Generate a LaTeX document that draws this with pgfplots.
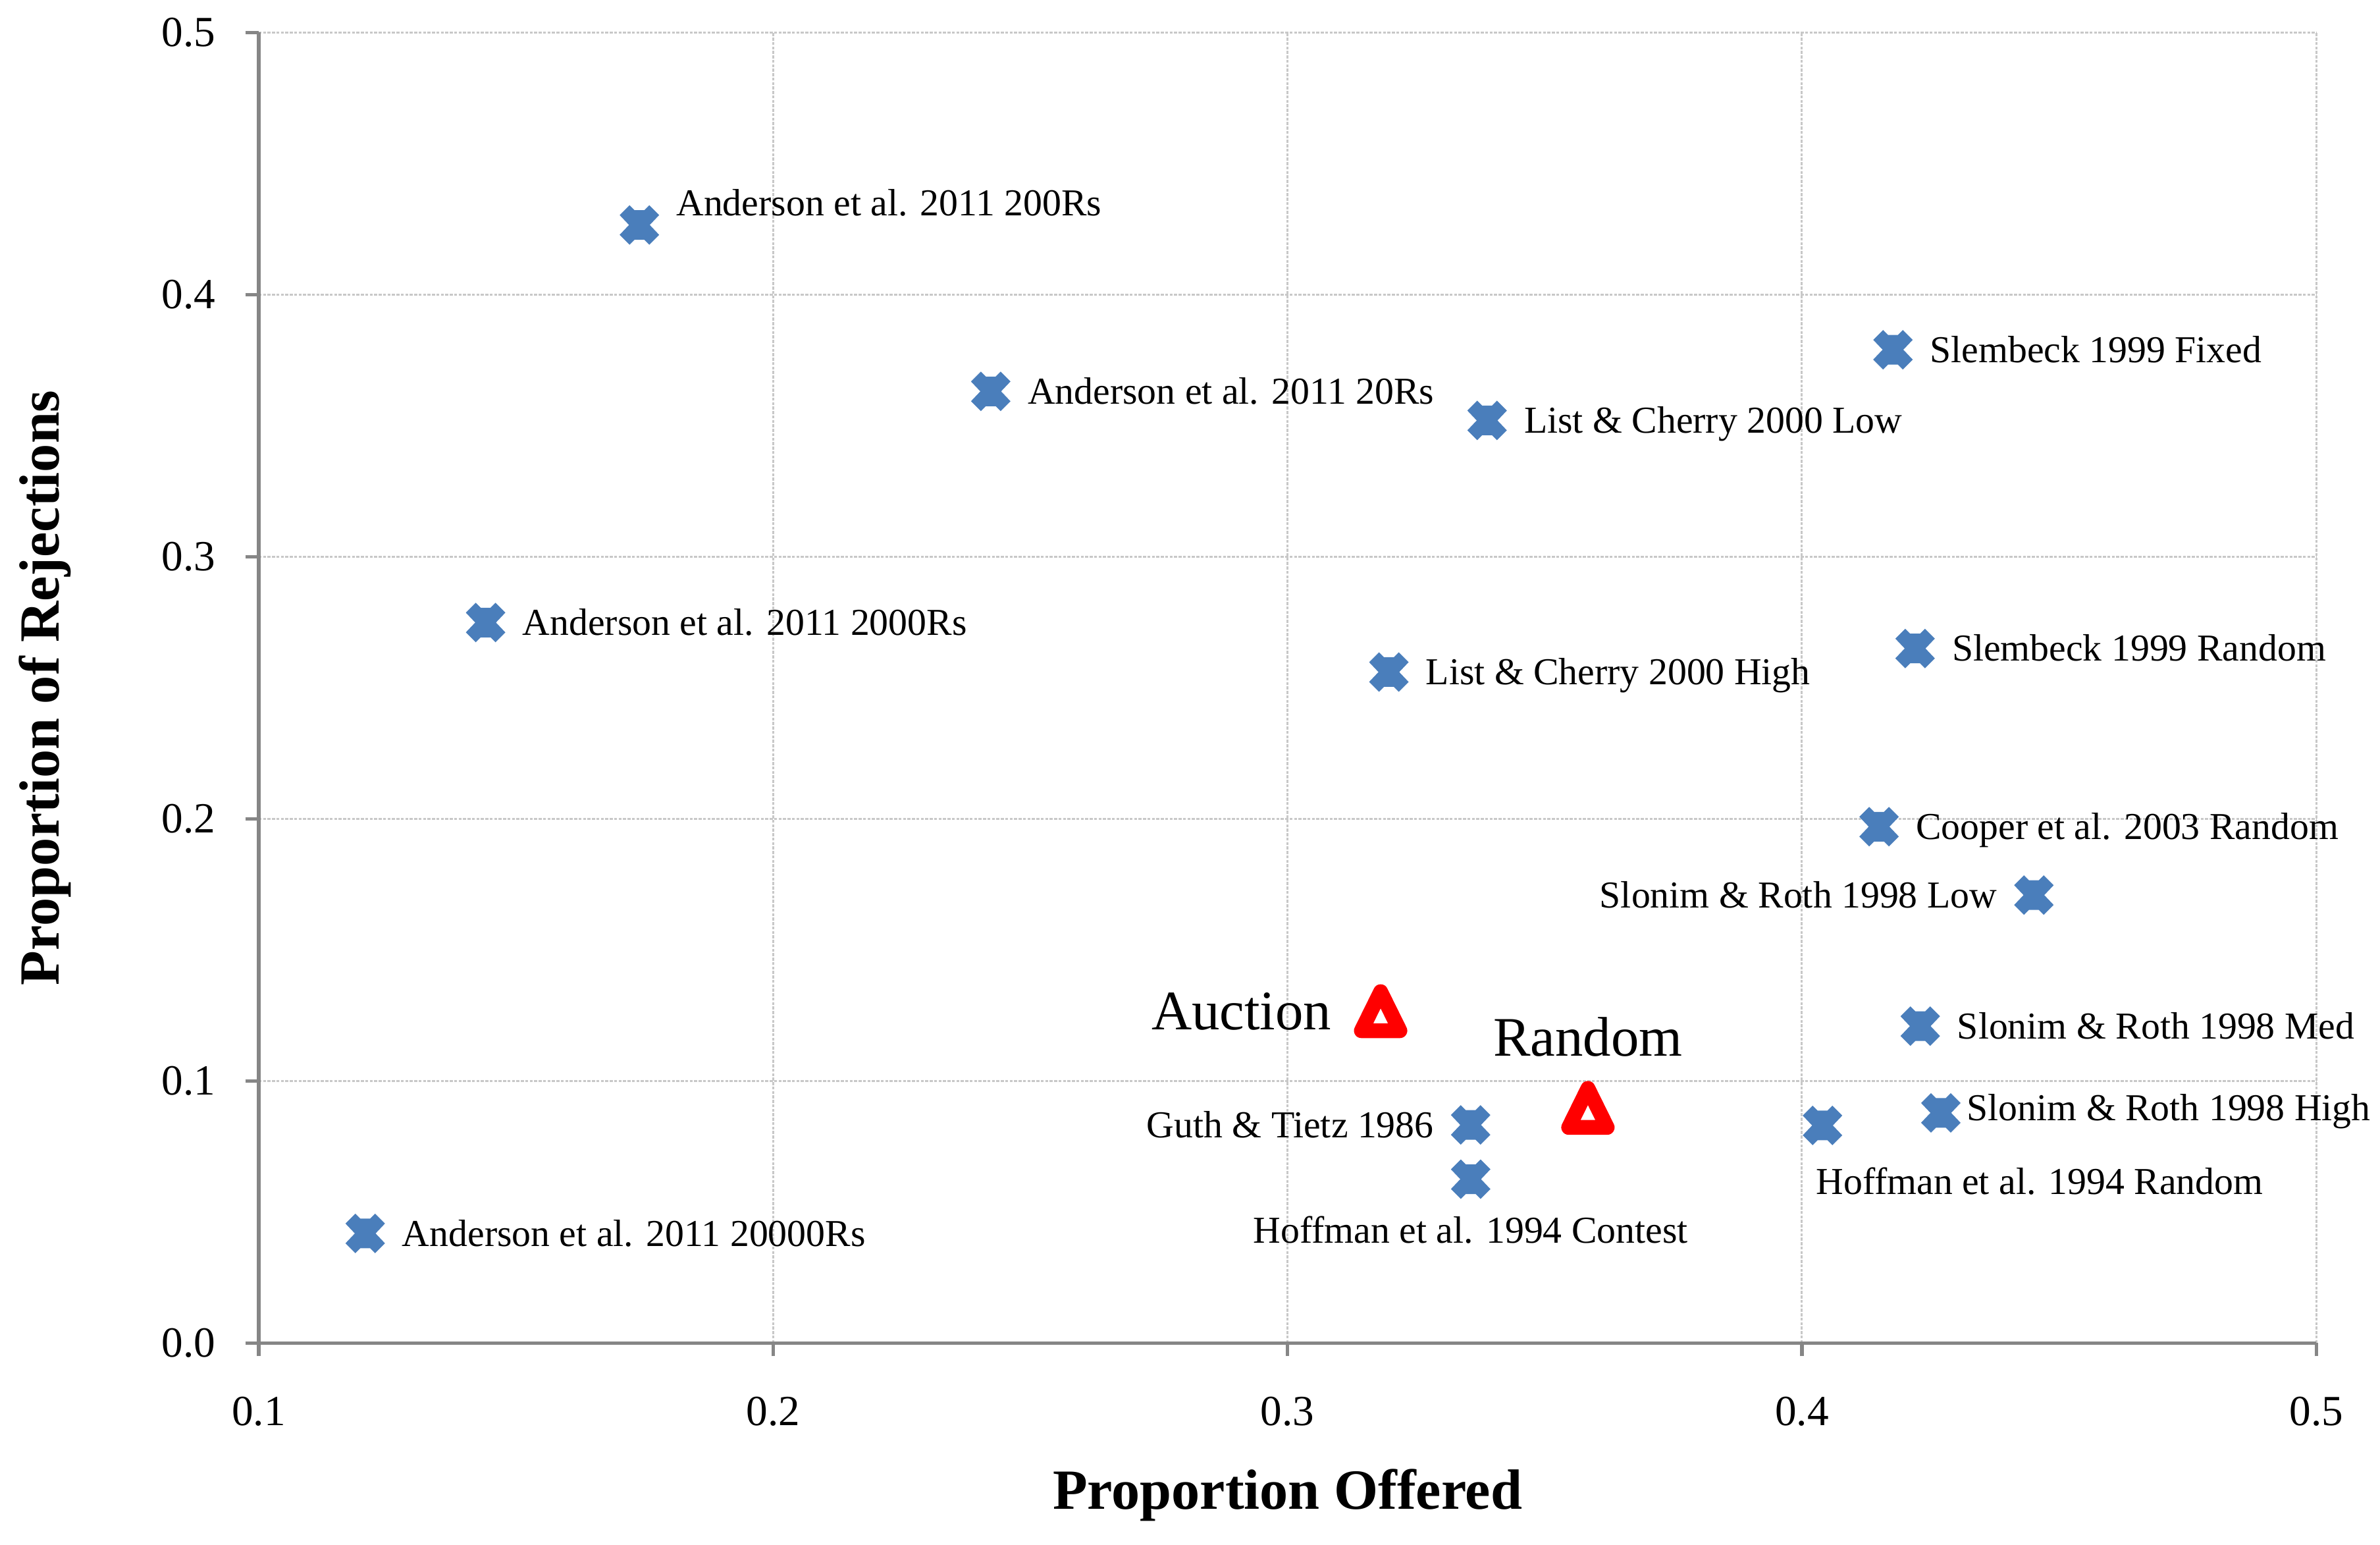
\documentclass[border=0pt]{standalone}
\usepackage{fontspec}
\setmainfont{Liberation Serif}
\usepackage{pgfplots}
\pgfplotsset{compat=1.18}
\definecolor{xblue}{RGB}{74,126,187}
\definecolor{axgray}{RGB}{134,134,134}
\definecolor{grdgray}{RGB}{200,200,200}
\pgfdeclareplotmark{fatx}{%
  \pgfpathmoveto{\pgfqpoint{-4pt}{2pt}}%
  \pgfpathlineto{\pgfqpoint{-2pt}{4pt}}%
  \pgfpathlineto{\pgfqpoint{-1pt}{3pt}}%
  \pgfpathlineto{\pgfqpoint{1pt}{3pt}}%
  \pgfpathlineto{\pgfqpoint{2pt}{4pt}}%
  \pgfpathlineto{\pgfqpoint{4pt}{2pt}}%
  \pgfpathlineto{\pgfqpoint{2.1pt}{0pt}}%
  \pgfpathlineto{\pgfqpoint{4pt}{-2pt}}%
  \pgfpathlineto{\pgfqpoint{2pt}{-4pt}}%
  \pgfpathlineto{\pgfqpoint{1pt}{-3pt}}%
  \pgfpathlineto{\pgfqpoint{-1pt}{-3pt}}%
  \pgfpathlineto{\pgfqpoint{-2pt}{-4pt}}%
  \pgfpathlineto{\pgfqpoint{-4pt}{-2pt}}%
  \pgfpathlineto{\pgfqpoint{-2.1pt}{0pt}}%
  \pgfpathclose
  \pgfusepathqfill}
\pgfdeclareplotmark{tri}{%
  \pgfpathmoveto{\pgfqpoint{0pt}{3.95pt}}%
  \pgfpathlineto{\pgfqpoint{-3.9pt}{-3.95pt}}%
  \pgfpathlineto{\pgfqpoint{3.9pt}{-3.95pt}}%
  \pgfpathclose
  \pgfusepathqfillstroke}
\newcommand\labfont{\fontsize{7.7}{9}\selectfont}
\newcommand\bigfont{\fontsize{11.3}{13}\selectfont}
\pgfplotsset{
  bx/.style={only marks, mark=fatx, color=xblue,
    every node near coord/.append style={inner sep=0pt, font=\labfont, text=black}},
  tr/.style={only marks, mark=tri, mark options={draw=red, fill=white, line width=3pt, line join=round},
    every node near coord/.append style={inner sep=0pt, font=\bigfont, text=black}},
  R/.style={every node near coord/.append style={anchor=base west, xshift=7.3pt, yshift=-2.55pt}},
  L/.style={every node near coord/.append style={anchor=base east, xshift=-7.3pt, yshift=-2.55pt}},
}
\begin{document}
\begin{tikzpicture}
\path[use as bounding box] (0,0) rectangle (482pt,312.8pt);
\begin{axis}[
  at={(52.4pt,40.9pt)}, anchor=south west,
  scale only axis, width=416.7pt, height=265.3pt,
  xmin=0.1, xmax=0.5, ymin=0, ymax=0.5,
  xtick={0.1,0.2,0.3,0.4,0.5}, ytick={0,0.1,0.2,0.3,0.4,0.5},
  axis lines=left, axis line style={-, draw=axgray, line width=0.7pt},
  tick align=outside, major tick length=2.7pt,
  tick style={draw=axgray, line width=0.7pt},
  grid=major, grid style={draw=grdgray, line width=0.4pt, dash pattern=on 0.6pt off 0.3pt},
  clip=false,
  /pgf/number format/assume math mode=true,
  tick label style={font=\fontsize{8.7}{10}\selectfont},
  xticklabel style={/pgf/number format/fixed, /pgf/number format/fixed zerofill, /pgf/number format/precision=1, yshift=-4.7pt},
  yticklabel style={/pgf/number format/fixed, /pgf/number format/fixed zerofill, /pgf/number format/precision=1, xshift=-2.5pt},
  xlabel={Proportion Offered},
  ylabel={Proportion of Rejections},
  xlabel style={at={(axis description cs:0.5,-0.1267)}, anchor=base, font=\fontsize{11.5}{13}\selectfont\bfseries},
  ylabel style={at={(axis description cs:-0.0970,0.5)}, anchor=base, font=\fontsize{11.5}{13}\selectfont\bfseries},
]
\addplot[bx, R, nodes near coords={Anderson et al. 2011 200Rs}, every node near coord/.append style={yshift=4.45pt}] coordinates {(0.1740,0.4266)};
\addplot[bx, R, nodes near coords={Anderson et al. 2011 20Rs}] coordinates {(0.2423,0.3631)};
\addplot[bx, R, nodes near coords={Anderson et al. 2011 2000Rs}] coordinates {(0.1441,0.2749)};
\addplot[bx, R, nodes near coords={Anderson et al. 2011 20000Rs}] coordinates {(0.1207,0.0418)};
\addplot[bx, R, nodes near coords={List \& Cherry 2000 Low}] coordinates {(0.3388,0.3520)};
\addplot[bx, R, nodes near coords={List \& Cherry 2000 High}] coordinates {(0.3197,0.2560)};
\addplot[bx, R, nodes near coords={Slembeck 1999 Fixed}] coordinates {(0.4177,0.3790)};
\addplot[bx, R, nodes near coords={Slembeck 1999 Random}] coordinates {(0.4220,0.2650)};
\addplot[bx, R, nodes near coords={Cooper et al. 2003 Random}] coordinates {(0.4150,0.1970)};
\addplot[bx, L, nodes near coords={Slonim \& Roth 1998 Low}] coordinates {(0.4451,0.1709)};
\addplot[bx, R, nodes near coords={Slonim \& Roth 1998 Med}] coordinates {(0.4230,0.1209)};
\addplot[bx, nodes near coords={Slonim \& Roth 1998 High}, every node near coord/.append style={anchor=base west, xshift=5.1pt, yshift=-1.6pt}] coordinates {(0.4270,0.0878)};
\addplot[bx, nodes near coords={Hoffman et al. 1994 Random}, every node near coord/.append style={anchor=base west, xshift=-1.5pt, yshift=-14pt}] coordinates {(0.4040,0.0830)};
\addplot[bx, L, nodes near coords={Guth \& Tietz 1986}] coordinates {(0.3356,0.0832)};
\addplot[bx, nodes near coords={Hoffman et al. 1994 Contest}, every node near coord/.append style={anchor=base, yshift=-12.9pt}] coordinates {(0.3356,0.0625)};
\addplot[tr, nodes near coords={Auction}, every node near coord/.append style={anchor=base east, xshift=-8.5pt, yshift=-3.74pt}] coordinates {(0.3181,0.1266)};
\addplot[tr, nodes near coords={Random}, every node near coord/.append style={anchor=base, yshift=10.5pt}] coordinates {(0.3584,0.0897)};
\end{axis}
\end{tikzpicture}
\end{document}
